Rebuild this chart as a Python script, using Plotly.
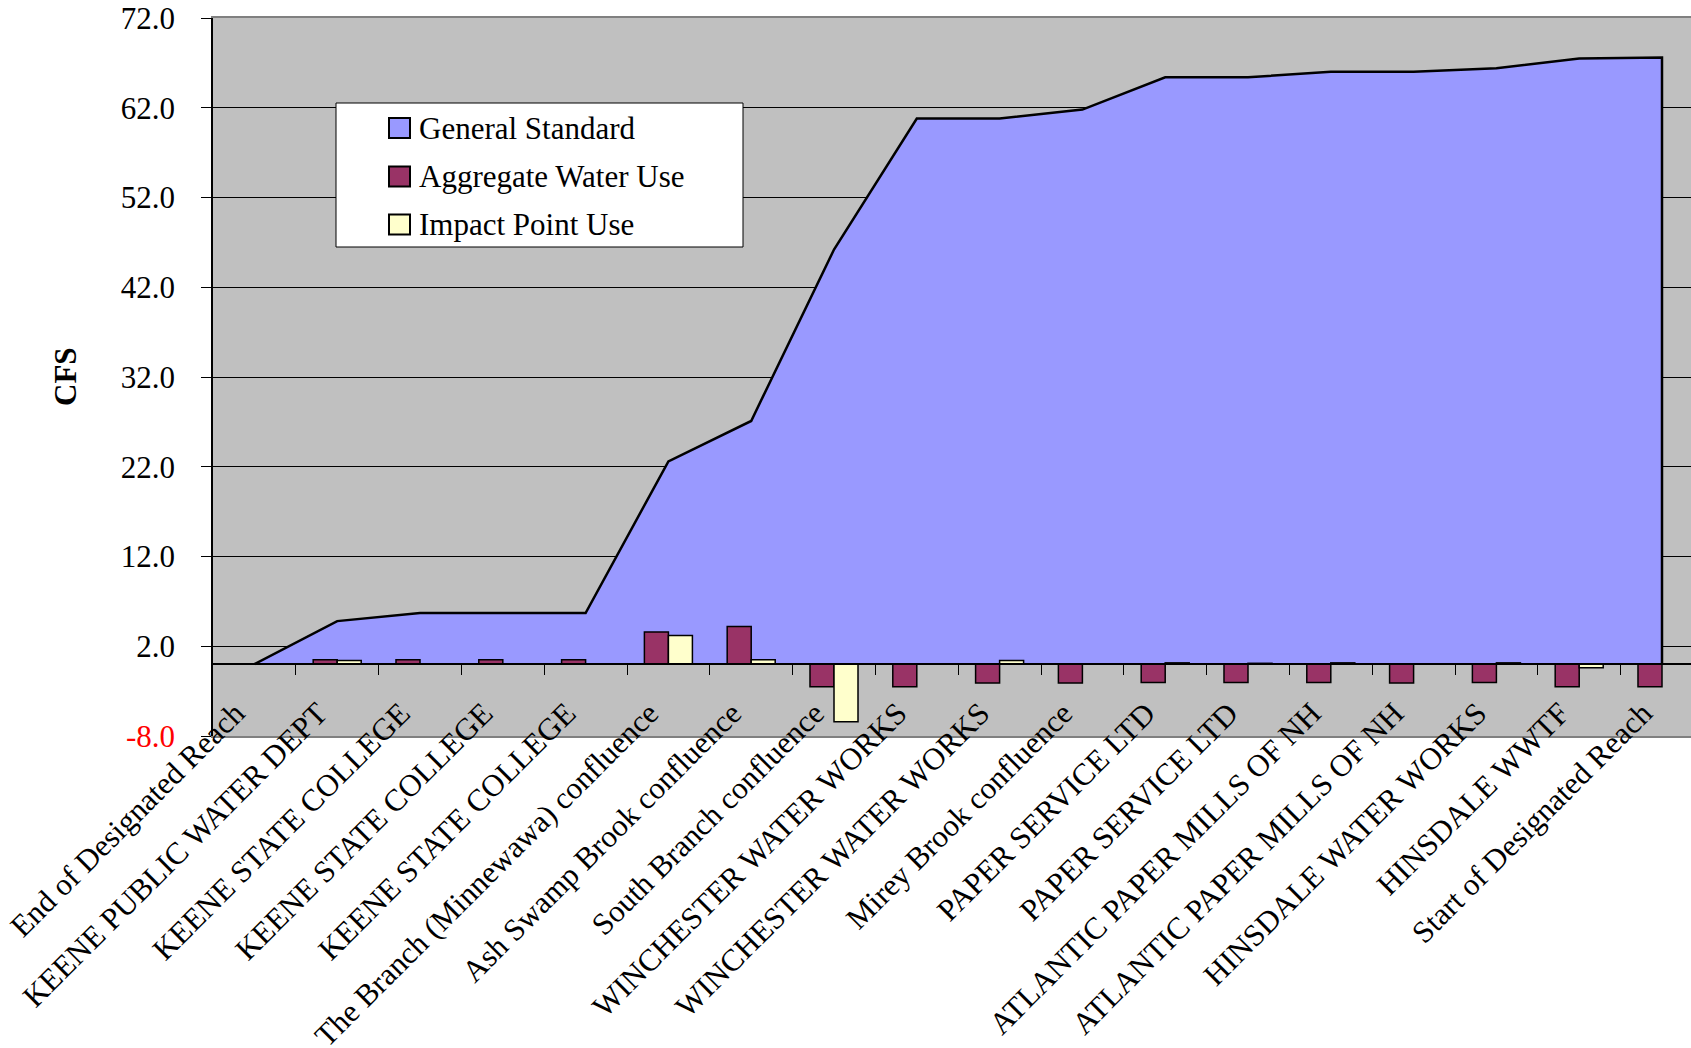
import plotly.graph_objects as go

# ---------------- data ----------------
categories = [
    "End of Designated Reach",
    "KEENE PUBLIC WATER DEPT",
    "KEENE STATE COLLEGE",
    "KEENE STATE COLLEGE",
    "KEENE STATE COLLEGE",
    "The Branch (Minnewawa) confluence",
    "Ash Swamp Brook confluence",
    "South Branch confluence",
    "WINCHESTER WATER WORKS",
    "WINCHESTER WATER WORKS",
    "Mirey Brook confluence",
    "PAPER SERVICE LTD",
    "PAPER SERVICE LTD",
    "ATLANTIC PAPER MILLS OF NH",
    "ATLANTIC PAPER MILLS OF NH",
    "HINSDALE WATER WORKS",
    "HINSDALE WWTF",
    "Start of Designated Reach",
]
general_standard = [0.0, 4.8, 5.7, 5.7, 5.7, 22.6, 27.1, 46.2, 60.8, 60.8,
                    61.8, 65.4, 65.4, 66.0, 66.0, 66.4, 67.5, 67.6]
aggregate_water_use = [None, 0.5, 0.5, 0.5, 0.5, 3.6, 4.2, -2.5, -2.5, -2.1,
                       -2.1, -2.05, -2.05, -2.05, -2.1, -2.05, -2.5, -2.5]
impact_point_use = [None, 0.4, None, None, None, 3.2, 0.5, -6.4, None, 0.4,
                    None, 0.15, 0.1, 0.15, 0.05, 0.15, -0.4, None]
y_tick_values = [-8, 2, 12, 22, 32, 42, 52, 62, 72]
y_range = [-8, 72]

# ---------------- layout geometry ----------------
W, H = 1691, 1048
ML, MR, MT, MB = 213, 0, 18, 312
PW, PH = W - ML - MR, H - MT - MB
CAT_PX = 82.8  # pixel width of one category
x_range = [-0.5, -0.5 + PW / CAT_PX]

FONT = "Liberation Serif, Times New Roman, serif"
FS = 31

idx = list(range(len(categories)))


def px_x(X):
    return (X - ML) / PW


def px_y(Y):
    return (H - MB - Y) / PH


fig = go.Figure()

# area (main subplot, drawn beneath the bars)
fig.add_trace(go.Scatter(
    x=idx + [idx[-1]], y=general_standard + [0.0],
    mode="lines", fill="tozeroy", fillcolor="#9999FF",
    line=dict(color="black", width=2.5),
    name="General Standard", showlegend=False, hoverinfo="skip",
))

# bars on the overlaying subplot
fig.add_trace(go.Bar(
    x=idx, y=aggregate_water_use, name="Aggregate Water Use",
    marker=dict(color="#993366", line=dict(color="black", width=1.5)),
    xaxis="x2", yaxis="y2", showlegend=False,
))
fig.add_trace(go.Bar(
    x=idx, y=impact_point_use, name="Impact Point Use",
    marker=dict(color="#FFFFCC", line=dict(color="black", width=1.5)),
    xaxis="x2", yaxis="y2", showlegend=False,
))

y_tick_text = []
for v in y_tick_values:
    s = f"{v:.1f}"
    if v < 0:
        s = f'<span style="color:red">{s}</span>'
    y_tick_text.append(s)

zero_pos = (0 - y_range[0]) / (y_range[1] - y_range[0])

fig.update_layout(
    width=W, height=H,
    margin=dict(l=ML, r=MR, t=MT, b=MB, pad=0, autoexpand=False),
    paper_bgcolor="white", plot_bgcolor="#C0C0C0",
    barmode="group", bargap=0.42, bargroupgap=0,
    showlegend=False,
    font=dict(family=FONT, size=FS, color="black"),
    xaxis=dict(
        range=x_range, tickmode="array", tickvals=idx, ticktext=categories,
        tickangle=-45, ticks="", showgrid=False, zeroline=False,
        showline=True, linecolor="#808080", linewidth=1.5, mirror=True,
        tickfont=dict(family=FONT, size=FS, color="black"),
        ticklabelstandoff=-55, ticklabelshift=-19, automargin=False,
    ),
    yaxis=dict(
        range=y_range, tickmode="array", tickvals=y_tick_values,
        ticktext=y_tick_text, ticks="outside", ticklen=10, tickcolor="black",
        tickwidth=1, showgrid=True, gridcolor="black", gridwidth=1,
        zeroline=False, showline=True, linecolor="black", linewidth=1.5,
        tickfont=dict(family=FONT, size=FS, color="black"),
        ticklabelstandoff=20, automargin=False,
    ),
    xaxis2=dict(
        overlaying="x", anchor="free", position=zero_pos, side="bottom",
        range=x_range, tickmode="array",
        tickvals=[i + 0.5 for i in idx[:-1]],
        ticks="outside", ticklen=10, tickcolor="black", tickwidth=1,
        showticklabels=False, showgrid=False, zeroline=False,
        showline=True, linecolor="black", linewidth=2, automargin=False,
    ),
    yaxis2=dict(
        overlaying="y", anchor="free", position=0, range=y_range,
        visible=False, automargin=False,
    ),
)

# y-axis title
fig.add_annotation(
    text="<b>CFS</b>", xref="paper", yref="paper", x=0, y=px_y(377),
    xshift=65 - ML, xanchor="center", yanchor="middle", textangle=-90,
    showarrow=False, font=dict(family=FONT, size=FS, color="black"),
)

# legend (drawn manually to match symbol size)
fig.add_shape(type="rect", xref="paper", yref="paper",
              x0=px_x(336), x1=px_x(743), y0=px_y(247), y1=px_y(103),
              fillcolor="white", line=dict(color="black", width=1), layer="above")
legend_items = [("General Standard", "#9999FF", 128),
                ("Aggregate Water Use", "#993366", 176.5),
                ("Impact Point Use", "#FFFFCC", 224.5)]
for name, col, cy in legend_items:
    fig.add_shape(type="rect", xref="paper", yref="paper",
                  x0=px_x(389), x1=px_x(410), y0=px_y(cy + 10), y1=px_y(cy - 10),
                  fillcolor=col, line=dict(color="black", width=2), layer="above")
    fig.add_annotation(text=name, xref="paper", yref="paper",
                       x=px_x(417), y=px_y(cy), xanchor="left", yanchor="middle",
                       showarrow=False,
                       font=dict(family=FONT, size=FS, color="black"))

fig.write_html("out.html",
               config={"displayModeBar": False},
               post_script="document.body.style.margin='0px';"
                           "document.body.style.overflow='hidden';")
